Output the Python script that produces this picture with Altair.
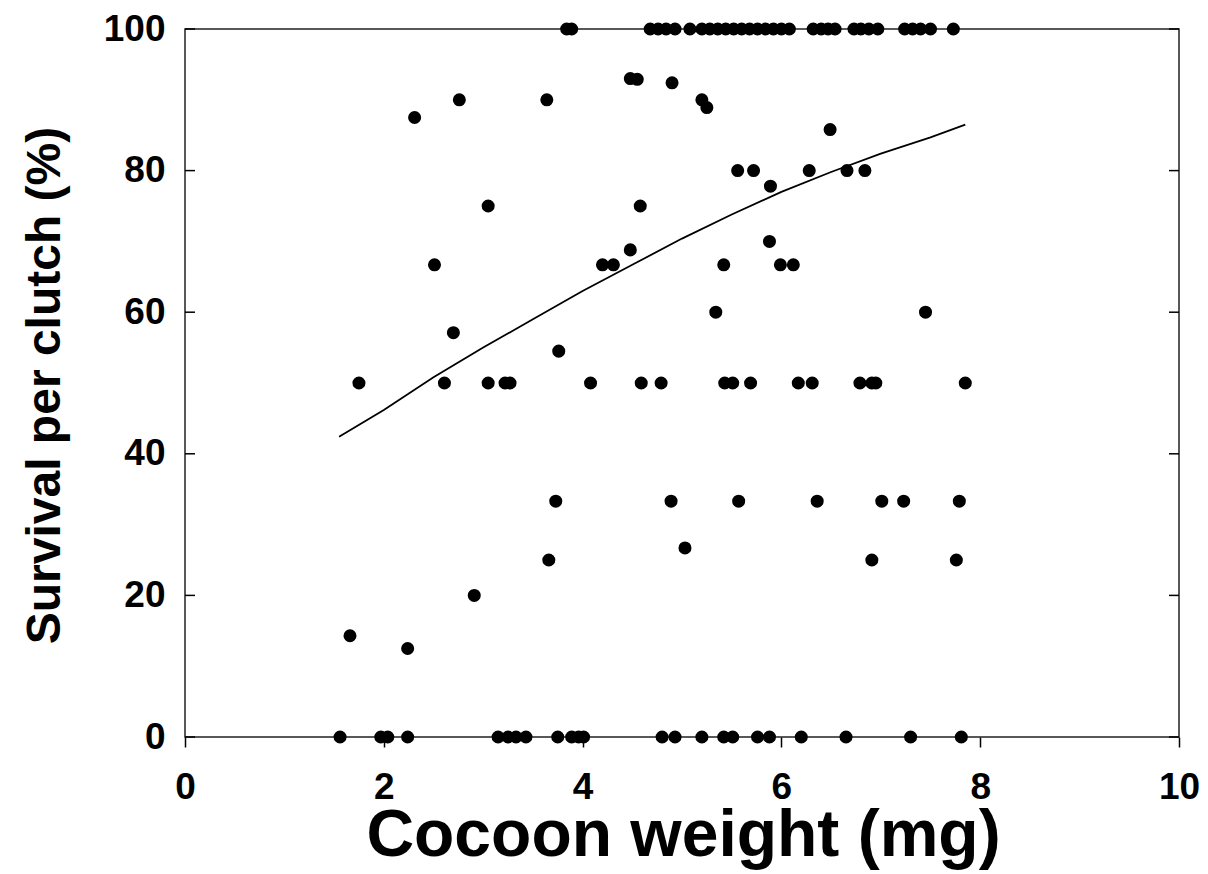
import altair as alt
import pandas as pd

# Clutch survival against cocoon weight: one dot per clutch
weight_mg = [
    # 100 % survival
    3.84, 3.89, 4.68, 4.76, 4.84, 4.93, 5.08, 5.20, 5.28, 5.36, 5.44, 5.52, 5.60,
    5.68, 5.76, 5.84, 5.92, 6.00, 6.08, 6.32, 6.40, 6.47, 6.54, 6.73, 6.80, 6.88,
    6.97, 7.24, 7.32, 7.40, 7.50, 7.73,
    # upper scatter
    2.31, 2.76, 3.64, 4.48, 4.55, 4.90, 5.20, 5.25, 6.49,
    5.56, 5.72, 6.28, 6.66, 6.84, 5.89, 3.05, 4.58, 5.88, 4.48,
    2.51, 4.20, 4.31, 5.42, 5.99, 6.12, 5.34, 7.45, 2.70, 3.76,
    # 50 % survival
    1.75, 2.61, 3.05, 3.22, 3.27, 4.08, 4.59, 4.79, 5.43, 5.51, 5.69, 6.17, 6.31,
    6.79, 6.91, 6.95, 7.85,
    # lower scatter
    3.73, 4.89, 5.57, 6.36, 7.01, 7.23, 7.79, 5.03, 3.66, 6.91, 7.76,
    2.91, 1.66, 2.24,
    # no survivors
    1.56, 1.97, 2.04, 2.24, 3.15, 3.25, 3.33, 3.43, 3.75, 3.89, 3.96, 4.01,
    4.80, 4.93, 5.20, 5.42, 5.51, 5.76, 5.88, 6.20, 6.65, 7.30, 7.81,
]
survival_pct = (
    [100.0] * 32
    + [87.5, 90.0, 90.0, 93.0, 92.9, 92.4, 90.0, 88.9, 85.8,
       80.0, 80.0, 80.0, 80.0, 80.0, 77.8, 75.0, 75.0, 70.0, 68.8,
       66.7, 66.7, 66.7, 66.7, 66.7, 66.7, 60.0, 60.0, 57.1, 54.5]
    + [50.0] * 17
    + [33.3, 33.3, 33.3, 33.3, 33.3, 33.3, 33.3, 26.7, 25.0, 25.0, 25.0,
       20.0, 14.3, 12.5]
    + [0.0] * 23
)

# Fitted survival curve
fit_weight = [1.55, 2.0, 2.5, 3.0, 3.5, 4.0, 4.5, 5.0, 5.5, 6.0, 6.5, 7.0, 7.5, 7.85]
fit_survival = [42.4, 46.2, 50.8, 55.0, 59.0, 63.0, 66.7, 70.4, 73.8, 77.0, 79.8, 82.4, 84.7, 86.5]

y_ticks = [0, 20, 40, 60, 80, 100]
x_ticks = [0, 2, 4, 6, 8, 10]

W, H = 994, 708
FONT = "Liberation Sans"

points = pd.DataFrame({"w": weight_mg, "s": survival_pct})
fit = pd.DataFrame({"w": fit_weight, "s": fit_survival})
ticks = pd.DataFrame({"t": y_ticks})

x_scale = alt.Scale(domain=[0, 10], nice=False, zero=False)
y_scale = alt.Scale(domain=[0, 100], nice=False, zero=False)

x_axis = alt.Axis(
    values=x_ticks, format="d", title="Cocoon weight (mg)", grid=False, domain=False,
    tickSize=10, tickColor="#000", tickWidth=1.5,
    labelFont=FONT, labelFontSize=37, labelFontWeight="bold", labelColor="#000",
    labelPadding=22, labelFlush=False,
    titleFont=FONT, titleFontSize=66, titleFontWeight="bold", titleColor="#000",
    titleX=W / 2 + 1, titleY=98, titleBaseline="middle", titleAnchor="middle",
)
y_axis = alt.Axis(
    values=y_ticks, format="d", title="Survival per clutch (%)", grid=False, domain=False,
    ticks=False, labelPadding=20,
    labelFont=FONT, labelFontSize=37, labelFontWeight="bold", labelColor="#000",
    labelFlush=False,
    titleFont=FONT, titleFontSize=48, titleFontWeight="bold", titleColor="#000",
    titleX=-140, titleY=H / 2 + 2, titleBaseline="middle", titleAngle=-90,
    titleAnchor="middle",
)

dots = alt.Chart(points).mark_circle(size=170, color="#000", opacity=1).encode(
    x=alt.X("w:Q", scale=x_scale, axis=x_axis),
    y=alt.Y("s:Q", scale=y_scale, axis=y_axis),
)

curve = alt.Chart(fit).mark_line(color="#000", strokeWidth=1.8).encode(
    x=alt.X("w:Q", scale=x_scale),
    y=alt.Y("s:Q", scale=y_scale),
)

# inward tick marks on the left and right edges of the frame
left_ticks = alt.Chart(ticks).mark_rule(color="#000", strokeWidth=1.5).encode(
    x=alt.value(0), x2=alt.value(10), y=alt.Y("t:Q", scale=y_scale)
)
right_ticks = alt.Chart(ticks).mark_rule(color="#000", strokeWidth=1.5).encode(
    x=alt.value(W - 10), x2=alt.value(W), y=alt.Y("t:Q", scale=y_scale)
)

chart = (
    alt.layer(curve, dots, left_ticks, right_ticks)
    .properties(
        width=W, height=H,
        autosize=alt.AutoSizeParams(type="none"),
        padding={"left": 185, "top": 29, "right": 29, "bottom": 137},
        background="white",
    )
    .configure_view(stroke="#222", strokeWidth=1.5)
)

chart.save("out.html", embed_options={"renderer": "svg", "actions": False})
